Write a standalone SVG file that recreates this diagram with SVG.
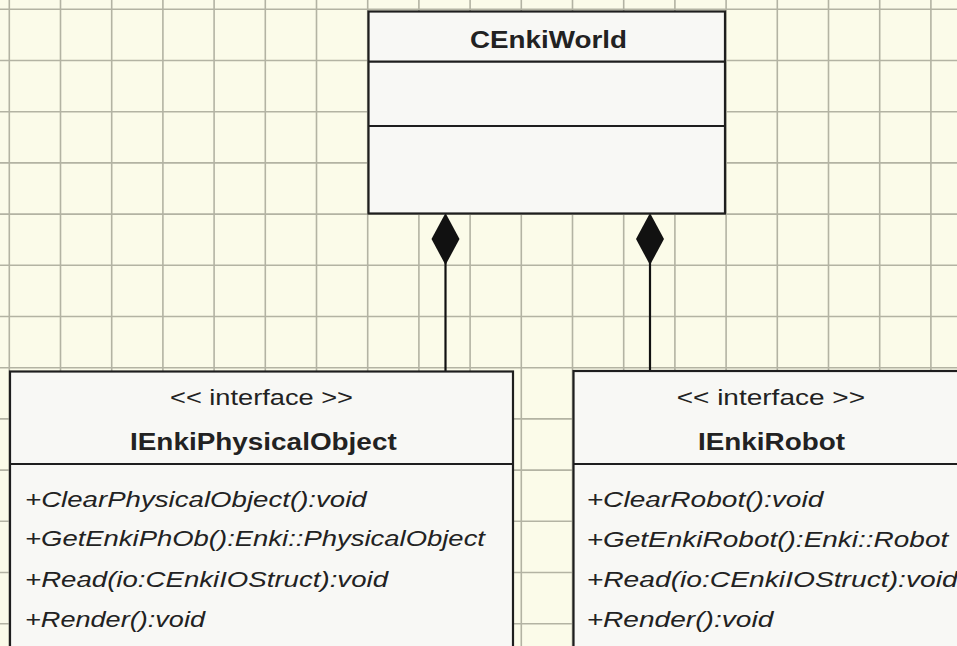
<svg xmlns="http://www.w3.org/2000/svg" width="957" height="646" viewBox="0 0 957 646">
  <style>
    .grid { stroke: #b3b3a3; stroke-width: 1.6; fill: none; }
    .box { fill: #f8f8f5; stroke: #1e1e1e; stroke-width: 2.2; }
    .sep { stroke: #1e1e1e; stroke-width: 2.2; }
    .edge { stroke: #111; stroke-width: 2.2; fill: none; }
    .diamond { fill: #111; stroke: none; }
    text { font-family: "Liberation Sans", Arial, sans-serif; fill: #222; }
    .name { font-size: 23px; font-weight: bold; }
    .stereo { font-size: 22px; }
    .op { font-size: 22px; font-style: italic; }
  </style>

  <!-- paper background with grid -->
  <rect x="0" y="0" width="957" height="646" fill="#fbfbe9"/>
  <path class="grid" d="
    M9.3 0V646 M60.5 0V646 M111.7 0V646 M162.9 0V646 M214.1 0V646 M265.3 0V646
    M316.5 0V646 M367.7 0V646 M418.9 0V646 M470.1 0V646 M521.3 0V646 M572.5 0V646
    M623.7 0V646 M674.9 0V646 M726.1 0V646 M777.3 0V646 M828.5 0V646 M879.7 0V646 M930.9 0V646
    M0 9.3H957 M0 60.5H957 M0 111.7H957 M0 162.9H957 M0 214.1H957 M0 265.3H957
    M0 316.5H957 M0 367.7H957 M0 418.9H957 M0 470.1H957 M0 521.3H957 M0 572.5H957 M0 623.7H957"/>

  <!-- composition connectors -->
  <g id="connectors">
    <line class="edge" x1="445.5" y1="262" x2="445.5" y2="372"/>
    <polygon class="diamond" points="445.5,213 459.5,239 445.5,265 431.5,239"/>
    <line class="edge" x1="650" y1="262" x2="650" y2="372"/>
    <polygon class="diamond" points="650,213 664,239 650,265 636,239"/>
  </g>

  <g id="CEnkiWorld">
    <rect class="box" x="368.5" y="11.5" width="356.5" height="202"/>
    <line class="sep" x1="368.5" y1="61.7" x2="725" y2="61.7"/>
    <line class="sep" x1="368.5" y1="126" x2="725" y2="126"/>
    <text class="name" x="470" y="48" textLength="157" lengthAdjust="spacingAndGlyphs">CEnkiWorld</text>
  </g>

  <g id="IEnkiPhysicalObject">
    <rect class="box" x="10" y="371.5" width="503" height="290"/>
    <line class="sep" x1="10" y1="464" x2="513" y2="464"/>
    <text class="stereo" x="170" y="405" textLength="183" lengthAdjust="spacingAndGlyphs">&lt;&lt; interface &gt;&gt;</text>
    <text class="name" x="130" y="450" textLength="266.7" lengthAdjust="spacingAndGlyphs">IEnkiPhysicalObject</text>
    <text class="op" x="25" y="506.7" textLength="341.7" lengthAdjust="spacingAndGlyphs">+ClearPhysicalObject():void</text>
    <text class="op" x="25" y="546" textLength="460" lengthAdjust="spacingAndGlyphs">+GetEnkiPhOb():Enki::PhysicalObject</text>
    <text class="op" x="25" y="586.7" textLength="363" lengthAdjust="spacingAndGlyphs">+Read(io:CEnkiIOStruct):void</text>
    <text class="op" x="25" y="626.7" textLength="180" lengthAdjust="spacingAndGlyphs">+Render():void</text>
  </g>

  <g id="IEnkiRobot">
    <rect class="box" x="573.5" y="371" width="400" height="290"/>
    <line class="sep" x1="573.5" y1="464" x2="973.5" y2="464"/>
    <text class="stereo" x="676.7" y="405" textLength="188.3" lengthAdjust="spacingAndGlyphs">&lt;&lt; interface &gt;&gt;</text>
    <text class="name" x="698" y="450" textLength="147" lengthAdjust="spacingAndGlyphs">IEnkiRobot</text>
    <text class="op" x="586.7" y="506.7" textLength="236.6" lengthAdjust="spacingAndGlyphs">+ClearRobot():void</text>
    <text class="op" x="586.7" y="546.7" textLength="361.6" lengthAdjust="spacingAndGlyphs">+GetEnkiRobot():Enki::Robot</text>
    <text class="op" x="586.7" y="586.7" textLength="371" lengthAdjust="spacingAndGlyphs">+Read(io:CEnkiIOStruct):void</text>
    <text class="op" x="586.7" y="626.7" textLength="186.6" lengthAdjust="spacingAndGlyphs">+Render():void</text>
  </g>
</svg>
